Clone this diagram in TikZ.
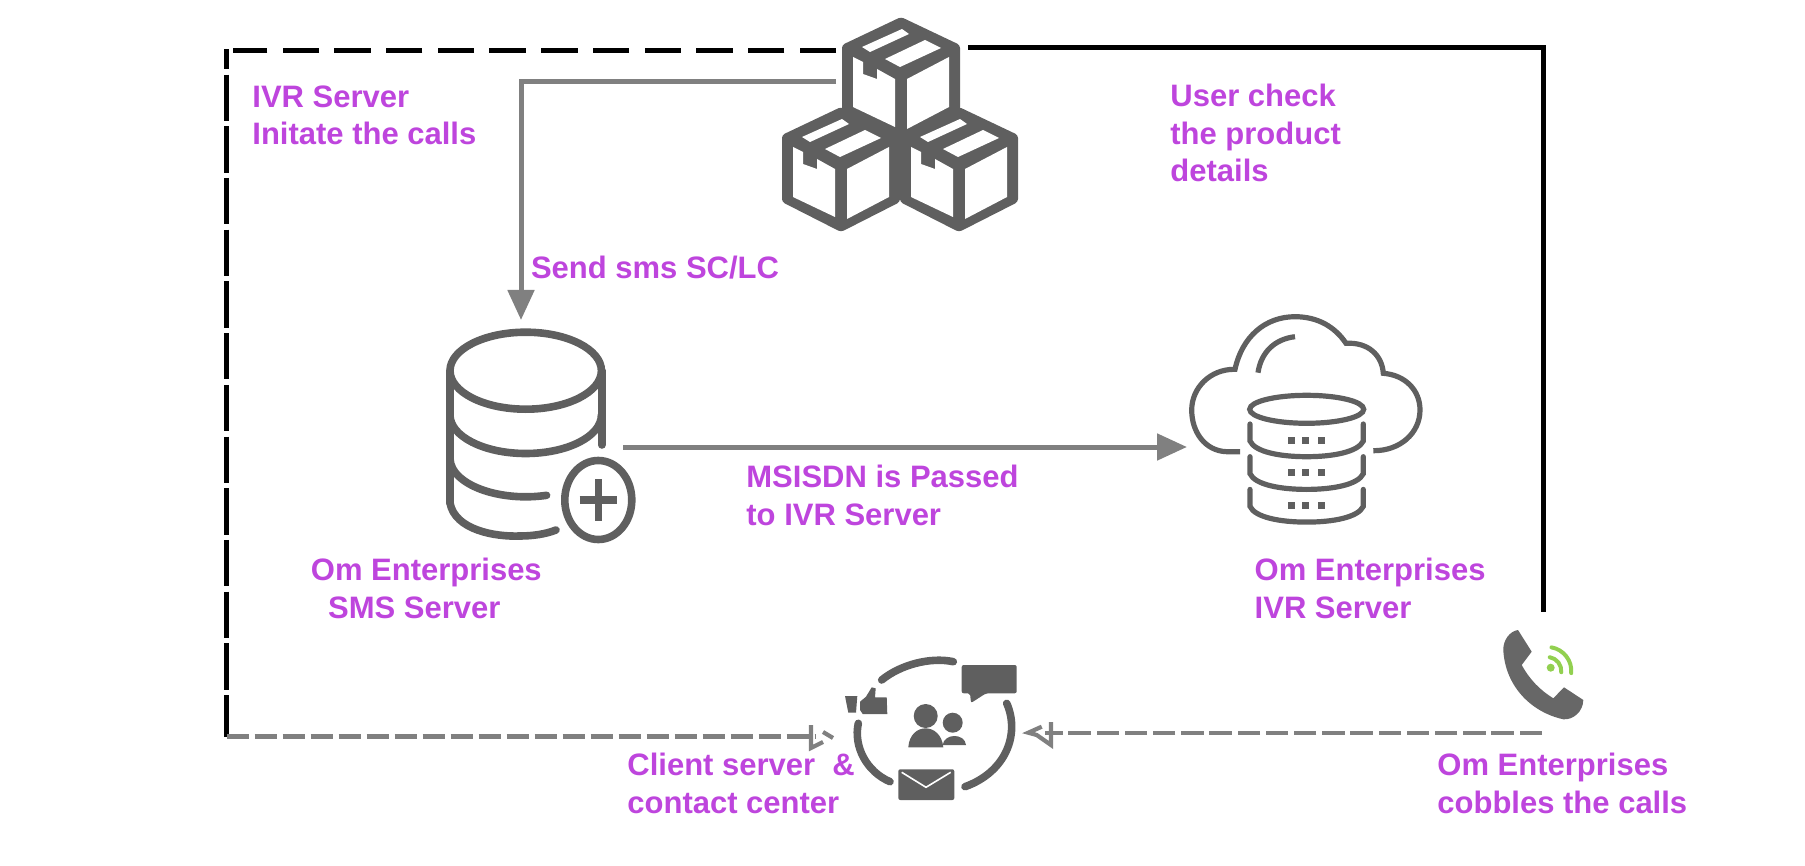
\documentclass[tikz,border=0pt]{standalone}
\usepackage{fontspec}
\setmainfont{Liberation Sans}
\usetikzlibrary{arrows.meta}
\definecolor{icongrey}{HTML}{5F5F5F}
\definecolor{linegrey}{HTML}{808080}
\definecolor{labelpurple}{HTML}{BE45DD}
\definecolor{signalgreen}{HTML}{92D050}
\tikzset{
	cubeicon/.pic = {
		\fill[icongrey, rounded corners=1.5pt] (0,0) -- (59,28) -- (59,95) -- (0,125) -- (-59,95) -- (-59,28) -- cycle;
		\fill[white] (-48,40) -- (-38,45) -- (-38,57) -- (-24,62) -- (-24,52) -- (-6,62) -- (-6,110) -- (-48,90) -- cycle;
		\fill[white] (6,62) -- (48,40) -- (48,90) -- (6,112) -- cycle;
		\fill[white] (-39,30) -- (1,12) -- (8,17) -- (-31,35) -- cycle;
		\fill[white] (-16,42) -- (24,23) -- (40,31) -- (-1,50) -- cycle;
	}
}
\begin{document}
\begin{tikzpicture}[x=0.5pt, y=-0.5pt,
	label/.style = {text=labelpurple, font=\fontsize{15.5}{18.85}\selectfont\bfseries, align=left, anchor=base west, inner sep=0pt},
	holder/.style = {inner sep=0pt, outer sep=0pt},
	iconline/.style = {draw=icongrey, line width=3.8pt, line cap=round},
	thinicon/.style = {draw=icongrey, line width=2.6pt, line cap=round},
	arrowline/.style = {draw=linegrey, line width=2.5pt, -{Triangle[length=15pt, width=13pt]}},
	blackline/.style = {draw=black, line width=2.5pt},
	dashline/.style = {draw=linegrey, line width=2.3pt, dash pattern=on 11pt off 3pt},
	tipbit/.style = {draw=linegrey, line width=2.1pt}]
	\useasboundingbox (0,0) rectangle (1805,866);

	\node[holder, minimum width=66pt, minimum height=91.5pt] (boxes) at (902,110) {};
	\node[holder, minimum width=88pt, minimum height=127pt] (smsdb) at (535,447) {};
	\node[holder, minimum width=119pt, minimum height=60pt] (clouddb) at (1306,447) {};
	\node[holder, minimum width=96.5pt, minimum height=40pt] (contact) at (931.5,735) {};
	\node[holder, minimum width=40pt, minimum height=60.5pt] (phone) at (1542,672.5) {};
	\coordinate (corner) at (226.7,51);
	\coordinate (lowcorner) at (226.7,736.7);
	\coordinate (topright) at (1543,47.3);

	\pic at (901,17) {cubeicon};
	\pic at (841,107) {cubeicon};
	\pic at (959,107) {cubeicon};

	\draw[iconline] (525.7,370.7) circle[x radius=37.85pt, y radius=19.25pt];
	\draw[iconline] (450,370.7) -- (450,503);
	\draw[iconline] (601.7,370.7) -- (601.7,445);
	\draw[iconline] (450,415) arc[start angle=180, end angle=360, x radius=37.85pt, y radius=19.25pt];
	\draw[iconline] (450,458.3) arc[start angle=180, end angle=286, x radius=37.85pt, y radius=19.25pt];
	\draw[iconline] (450,503) .. controls (455,530) and (495,537) .. (520,536) .. controls (533,536) and (546,534) .. (556,530);
	\draw[iconline] (598.3,500) circle[x radius=16.75pt, y radius=19.75pt];
	\draw[draw=icongrey, line width=3.6pt] (579.5,500) -- (617,500) (598.3,479) -- (598.3,521);

	\draw[thinicon, line cap=butt] (1240,451.7) -- (1226.7,451.7) .. controls (1205,451) and (1191.7,432) .. (1191.7,410) .. controls (1191.7,388) and (1210,369) .. (1235,369.3)
		.. controls (1242,337) and (1265,316.7) .. (1295,316.7) .. controls (1318,316.7) and (1335,327) .. (1346,343.3)
		.. controls (1368,342) and (1382,355) .. (1383.3,373.3) .. controls (1405,375) and (1420,390) .. (1420,410) .. controls (1420,433) and (1400,451) .. (1373.3,450.7);
	\draw[thinicon, line cap=butt] (1258,372.7) .. controls (1261,352) and (1275,339) .. (1295,336.7);
	\draw[thinicon] (1306.7,409.3) circle[x radius=28.5pt, y radius=7pt];
	\foreach \yy in {0,32.7,65.4} {
		\draw[thinicon] (1250,424+\yy) -- (1250,441+\yy) .. controls (1255,452+\yy) and (1280,456.7+\yy) .. (1306.7,456.7+\yy) .. controls (1333,456.7+\yy) and (1358,452+\yy) .. (1363.3,441+\yy) -- (1363.3,424+\yy);
		\foreach \xx in {1291.7,1305.7,1321.7}
			\fill[icongrey] (\xx-3.5,436.5+\yy) rectangle (\xx+3.5,443.5+\yy);
	}

	\draw[iconline] (881.7,680) .. controls (900,665) and (930,656.7) .. (953.3,661.7);
	\draw[iconline] (1006.7,703.3) .. controls (1020,733.3) and (1006.7,771.7) .. (965,786.7);
	\draw[iconline] (858.3,723.3) .. controls (853.3,746.7) and (866.7,771.7) .. (890,781.7);
	\fill[icongrey, rounded corners=1pt] (961.7,665) -- (1016.7,665) -- (1016.7,693.3) -- (986,693.3) -- (971,703) -- (970,693.3) -- (961.7,693.3) -- cycle;
	\fill[icongrey] (845,696) -- (857.3,696) -- (856,712.7) -- (848.3,712.7) -- cycle;
	\fill[icongrey] (860,701.7) -- (866,696.7) -- (871.7,687.3) -- (875.7,688.3) -- (875,697.3) -- (886.7,697.3) -- (887.3,714) -- (862.7,714) -- (860,710) -- cycle;
	\fill[icongrey] (925.7,716) circle[radius=6pt];
	\fill[icongrey] (952.7,722.7) circle[radius=5pt];
	\fill[icongrey] (942.7,745) .. controls (944,733) and (965,733) .. (966,745) -- cycle;
	\fill[icongrey] (908.3,747.3) .. controls (910,722) and (941,722) .. (943.3,747.3) -- cycle;
	\fill[icongrey, rounded corners=1pt] (898.3,769.3) rectangle (954.3,800);
	\draw[white, line width=0.8pt] (901.7,772.3) -- (926,787.3) -- (950.7,772.3);

	\fill[icongrey!95!white] (1518,630) -- (1531.7,651.7) -- (1521.7,665) .. controls (1530,680) and (1540,690) .. (1553.3,698.3) -- (1564,687.3) -- (1583.3,700)
		.. controls (1583,712) and (1573,720) .. (1563.3,719.3) .. controls (1530,712) and (1505,685) .. (1503.3,650) .. controls (1503,640) and (1510,631) .. (1518,630) -- cycle;
	\fill[signalgreen] (1550.7,667.7) circle[radius=2pt];
	\draw[signalgreen, line width=2pt, line cap=round] (1547.3,671) ++(80:7pt) arc[start angle=80, end angle=-5, radius=7pt];
	\draw[signalgreen, line width=2pt, line cap=round] (1547.3,671) ++(80:12pt) arc[start angle=80, end angle=-5, radius=12pt];

	\draw[blackline, dash pattern=on 18.2pt off 7.65pt] (boxes.west |- corner) -- (corner -| 232.7,0);
	\draw[blackline, dash pattern=on 23.2pt off 2.65pt, dash phase=13.2pt] (226.7,49.3) -- (lowcorner);
	\draw[blackline] (boxes.east |- topright) -- (topright) -- (phone.north -| topright);
	\draw[arrowline] (boxes.west |- 0,82) -- (521,82) -- (smsdb.north -| 521,0);
	\draw[arrowline] (smsdb.east) -- (clouddb.west);
	\draw[dashline, shorten >=9.5pt] (lowcorner) -- (contact.west |- lowcorner);
	\draw[dashline, dash pattern=on 11.2pt off 2.9pt, shorten >=8.5pt] (phone.south) -- (contact.east |- phone.south);
	\draw[tipbit] (811,725) -- (811,748) -- (823,742) (823,732) -- (833,738);
	\draw[tipbit] (1041.7,726.7) -- (1028.3,732.7) -- (1036.7,735) -- (1051,745) -- (1051,722);

	\node[label] (ivrnote) at (252,145) {IVR Server\\Initate the calls};
	\node[label] (usernote) at (1170,182) {User check\\the product\\details};
	\node[label] (smsnote) at (530.6,278.5) {Send sms SC/LC};
	\node[label] (passnote) at (746,525) {MSISDN is Passed\\to IVR Server};
	\node[label] (smsname) at (310.5,618) {Om Enterprises\\\hspace*{8.6pt}SMS Server};
	\node[label] (ivrname) at (1254.3,618) {Om Enterprises\\IVR Server};
	\node[label] (clientname) at (627,813) {Client server\ \ \&\\contact center};
	\node[label] (cobblename) at (1437,813) {Om Enterprises\\cobbles the calls};
\end{tikzpicture}
\end{document}
